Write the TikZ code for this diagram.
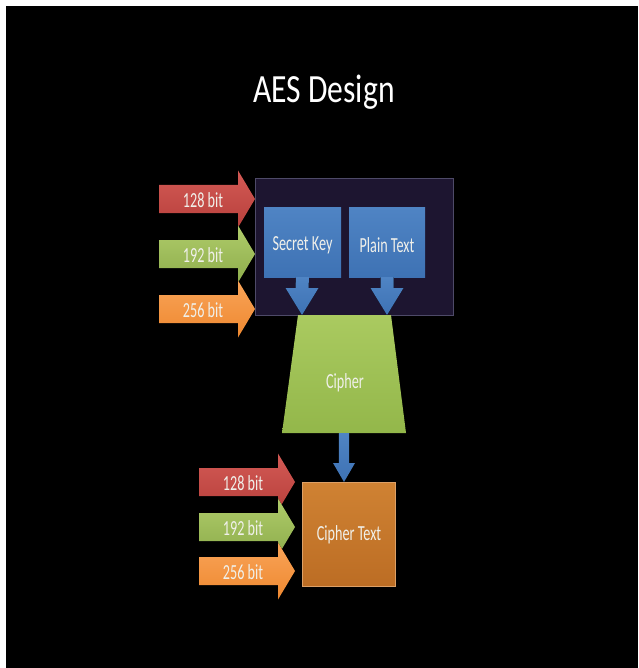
\documentclass[tikz,border=0pt]{standalone}
\usepackage{fontspec}
\setmainfont{Carlito}
\usepackage{graphicx}
\usetikzlibrary{calc}
\definecolor{redT}{HTML}{D35A55}\definecolor{redB}{HTML}{B8403C}
\definecolor{grnT}{HTML}{AFCB6A}\definecolor{grnB}{HTML}{8EAE4C}
\definecolor{orgT}{HTML}{F9A458}\definecolor{orgB}{HTML}{EE8830}
\definecolor{bluT}{HTML}{4F84C4}\definecolor{bluB}{HTML}{3E72B4}
\definecolor{cipT}{HTML}{AACA60}\definecolor{cipB}{HTML}{93B74A}
\definecolor{ctT}{HTML}{CF8233}\definecolor{ctB}{HTML}{BC6D24}
\definecolor{panelfill}{HTML}{1D1530}\definecolor{panelline}{HTML}{4E4A68}
\definecolor{ctline}{HTML}{DDA066}
\definecolor{txt}{HTML}{F0F0EA}
\newcommand\sq[1]{\scalebox{0.66}[1]{#1}}
\newcommand\sqt[1]{\scalebox{0.79}[1]{#1}}
\newcommand\bitarr[7]{%
  \fill[top color=#5T,bottom color=#5B] ({#2},{#4-14}) -- ({#3-17},{#4-14}) -- ({#3-17},{#4-28.5}) -- ({#3},{#4}) -- ({#3-17},{#4+28.5}) -- ({#3-17},{#4+14}) -- ({#2},{#4+14}) -- cycle;
  \node[lbl] (#1) at ({#7},{#4+1}) {\sq{#6}};}
\newcommand\downblk[5]{% from (#1) to (#2), shaft half #3, head half #4, head length #5
  \fill[top color=bluT,bottom color=bluB] ($(#1)+(-#3,0)$) -- ($(#2)+(-#3,-#5)$) -- ($(#2)+(-#4,-#5)$) -- (#2) -- ($(#2)+(#4,-#5)$) -- ($(#2)+(#3,-#5)$) -- ($(#1)+(#3,0)$) -- cycle;}
\begin{document}
\begin{tikzpicture}[x=1pt,y=-1pt,
  lbl/.style={text=txt,font=\fontsize{21.5}{24}\selectfont,inner sep=0pt},
  bluebox/.style={top color=bluT,bottom color=bluB,inner sep=0pt}]
\useasboundingbox (0,0) rectangle (638,668);
\fill[white] (0,0) rectangle (638,668);
\fill[black] (6,6) rectangle (638,668);
\node[anchor=base,text=white,font=\fontsize{40}{44}\selectfont,inner sep=0pt] (title) at (324,103) {\sqt{AES Design}};
% panel
\fill[panelfill,draw=panelline,line width=0.8pt] (255,178) rectangle (453,315);
% boxes
\fill[bluebox] (264,207) rectangle (341,277);
\fill[bluebox] (349,207) rectangle (425,277);
\node[lbl] (sk) at (302.5,245) {\sq{Secret Key}};
\node[lbl] (pt) at (387,245) {\sq{Plain Text}};
\coordinate (skB) at (302.5,277);
\coordinate (ptB) at (387,277);
% cipher trapezoid
\fill[top color=cipT,bottom color=cipB] (298,315) -- (391,315) -- (406,433) -- (282,433) -- cycle;
\node[lbl] (cipher) at (345,383) {\sq{Cipher}};
\coordinate (skT) at (302,315);
\coordinate (ptT) at (387,315);
\downblk{skB}{skT}{6.5}{16.5}{27}
\downblk{ptB}{ptT}{6.5}{16.5}{27}
% cipher text box
\fill[top color=ctT,bottom color=ctB,draw=ctline,line width=0.6pt] (302.5,482) rectangle (395,586);
\node[lbl] (ctext) at (349,535) {\sq{Cipher Text}};
\coordinate (cipB) at (344,433);
\coordinate (ctN) at (344,482);
\downblk{cipB}{ctN}{5.2}{11}{19}
% upper bit arrows
\bitarr{u128}{159}{255}{199}{red}{128 bit}{203}
\bitarr{u192}{159}{255}{254}{grn}{192 bit}{203}
\bitarr{u256}{159}{255}{309}{org}{256 bit}{203}
% lower bit arrows
\bitarr{l128}{199}{295}{482}{red}{128 bit}{243}
\bitarr{l192}{199}{295}{527}{grn}{192 bit}{243}
\bitarr{l256}{199}{295}{571}{org}{256 bit}{243}
\end{tikzpicture}
\end{document}
